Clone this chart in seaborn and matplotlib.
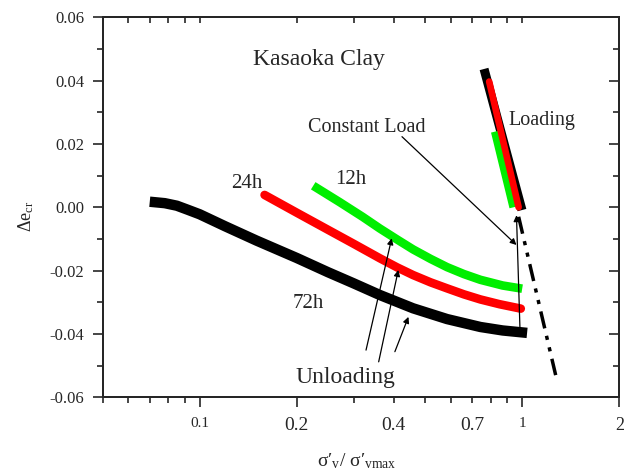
import numpy as np
import pandas as pd
import matplotlib
matplotlib.use("Agg")
import matplotlib.pyplot as plt
import seaborn as sns
from matplotlib.ticker import FixedLocator, NullFormatter, MultipleLocator, FixedFormatter

# ---------------- data ----------------
# unloading curves
x72 = [0.0727, 0.078, 0.085, 0.092, 0.1, 0.12, 0.15, 0.2, 0.25, 0.3, 0.362, 0.459, 0.585, 0.742, 0.87, 0.998]
y72 = [0.0016, 0.0013, 0.0005, -0.0008, -0.0022, -0.0060, -0.0105, -0.0160, -0.0205, -0.0240, -0.0277, -0.0319, -0.0353, -0.0378, -0.0389, -0.0395]
x24 = [0.159, 0.2, 0.25, 0.3, 0.362, 0.41, 0.459, 0.52, 0.585, 0.66, 0.742, 0.85, 0.99]
y24 = [0.0039, -0.0017, -0.0071, -0.0115, -0.0161, -0.0190, -0.0214, -0.0237, -0.0256, -0.0275, -0.0291, -0.0306, -0.0320]
x12 = [0.225, 0.272, 0.32, 0.362, 0.41, 0.459, 0.52, 0.585, 0.66, 0.742, 0.87, 1.0]
y12 = [0.0068, 0.0016, -0.0030, -0.0067, -0.0102, -0.0133, -0.0163, -0.0189, -0.0211, -0.0229, -0.0247, -0.0257]
# loading segments
x72_load = [0.768, 0.99]
y72_load = [0.0423, 0.0005]
x24_load = [0.79, 0.975]
y24_load = [0.0397, 0.0]
x12_load = [0.824, 0.94]
y12_load = [0.0239, 0.0]
# extrapolated loading line (dash-dot)
x_ext = [0.975, 1.27]
y_ext = [-0.003, -0.053]
# annotation arrows: (x_start, y_start, x_end, y_end)
arrow_const = (0.424, 0.0223, 0.96, -0.0119)
arrow_vert = (0.985, -0.0395, 0.96, -0.0025)
arrows_unload = [(0.328, -0.0451, 0.394, -0.0098),
                 (0.359, -0.0488, 0.413, -0.0198),
                 (0.403, -0.0456, 0.444, -0.0346)]
xtick_vals = [0.1, 0.2, 0.4, 0.7, 1, 2]
xtick_labels = ["0.1", "0.2", "0.4", "0.7", "1", "2"]
xtick_sizes = [11, 14, 14, 14, 11, 13]
ytick_vals = [-0.06, -0.04, -0.02, 0.00, 0.02, 0.04, 0.06]
ytick_labels = ["-0.06", "-0.04", "-0.02", "0.00", "0.02", "0.04", "0.06"]

# ---------------- style ----------------
sns.set_style("ticks")
plt.rcParams['font.family'] = ['Liberation Serif', 'DejaVu Serif']
plt.rcParams['mathtext.fontset'] = 'custom'
plt.rcParams['mathtext.rm'] = 'Liberation Serif'
plt.rcParams['mathtext.it'] = 'Liberation Serif:italic'
plt.rcParams['axes.linewidth'] = 1.3

fig = plt.figure(figsize=(6.32, 4.70), dpi=100)
ax = fig.add_axes([0.1622, 0.1547, 0.8177, 0.8085])

def seg(x, y, color, lw, cap='round', order=2, **kw):
    df = pd.DataFrame({"x": x, "y": y})
    sns.lineplot(data=df, x="x", y="y", ax=ax, color=color, linewidth=lw,
                 sort=False, estimator=None, solid_capstyle=cap,
                 solid_joinstyle='round', zorder=order, **kw)

seg(x72, y72, "black", 7.5, cap='projecting')
seg(x24, y24, "#ff0000", 6.2, cap='round')
seg(x12, y12, "#00ee00", 6.2, cap='butt')
seg(x72_load, y72_load, "black", 6.5, cap='projecting', order=3)
seg(x12_load, y12_load, "#00ee00", 6.0, cap='butt', order=3)
seg(x24_load, y24_load, "#ff0000", 4.8, cap='round', order=4)
df_ext = pd.DataFrame({"x": x_ext, "y": y_ext})
sns.lineplot(data=df_ext, x="x", y="y", ax=ax, color="black", linewidth=2.5,
             sort=False, estimator=None, zorder=3,
             linestyle=(0, (5, 2.2, 1.2, 2.2, 1.2, 2.2)))

ax.set_xscale("log")
ax.set_xlim(0.05, 2)
ax.set_ylim(-0.06, 0.06)

aprops = dict(arrowstyle='-|>', color='black', lw=0.9, mutation_scale=9, shrinkA=0, shrinkB=0)
for (x0, y0, x1, y1) in [arrow_const, arrow_vert] + arrows_unload:
    ax.annotate("", xy=(x1, y1), xytext=(x0, y0), arrowprops=aprops, zorder=5)

# texts
fig.text(318.5 / 632, 1 - 59 / 470, "Kasaoka Clay", fontsize=17, ha='center', va='center')
fig.text(367 / 632, 1 - 128 / 470, "Constant Load", fontsize=14.5, ha='center', va='center')
fig.text(542 / 632, 1 - 121 / 470, "Loading", fontsize=14.5, ha='center', va='center')
fig.text(351 / 632, 1 - 180 / 470, "12h", fontsize=15, ha='center', va='center')
fig.text(246.5 / 632, 1 - 183 / 470, "24h", fontsize=15, ha='center', va='center')
fig.text(308 / 632, 1 - 303 / 470, "72h", fontsize=15, ha='center', va='center')
fig.text(345 / 632, 1 - 377 / 470, "Unloading", fontsize=17, ha='center', va='center')

# axes labels
ax.set_xlabel("")
ax.set_ylabel("")
fig.text(357 / 632, 1 - 461 / 470, "σ′$_{\\mathrm{v}}$/ σ′$_{\\mathrm{vmax}}$", fontsize=14, ha='center', va='center')
fig.text(26 / 632, 1 - 216 / 470, "Δe$_{\\mathrm{cr}}$", fontsize=13, ha='center', va='center', rotation=90)

# ticks x
ax.xaxis.set_major_locator(FixedLocator(xtick_vals))
ax.xaxis.set_major_formatter(FixedFormatter(xtick_labels))
minors = [v * d for d in (0.01, 0.1, 1) for v in range(2, 10)]
ax.xaxis.set_minor_locator(FixedLocator(minors))
ax.xaxis.set_minor_formatter(NullFormatter())
ax.tick_params(axis='x', which='major', direction='out', length=7, width=1.2, pad=7, top=False)
ax.tick_params(axis='x', which='minor', direction='out', length=4.5, width=1.2, top=False)
for lbl, fs in zip(ax.get_xticklabels(), xtick_sizes):
    lbl.set_fontsize(fs)
for t, v in zip(ax.xaxis.get_major_ticks(), xtick_vals):
    if v in (0.4, 0.7):
        t.tick1line.set_markersize(4.5)

# ticks y
ax.yaxis.set_major_locator(FixedLocator(ytick_vals))
ax.yaxis.set_major_formatter(FixedFormatter(ytick_labels))
ax.yaxis.set_minor_locator(MultipleLocator(0.01))
ax.tick_params(axis='y', which='major', direction='out', length=7, width=1.2, pad=6, labelsize=12, right=False)
ax.tick_params(axis='y', which='minor', direction='out', length=4.5, width=1.2, right=False)

# mirrored inward ticks on top/right
axr = ax.twinx()
axr.set_ylim(ax.get_ylim())
axr.yaxis.set_major_locator(FixedLocator(ytick_vals))
axr.yaxis.set_minor_locator(MultipleLocator(0.01))
axr.tick_params(axis='y', which='major', direction='in', length=7, width=1.2, labelright=False)
axr.tick_params(axis='y', which='minor', direction='in', length=4.5, width=1.2, labelright=False)
axt = ax.twiny()
axt.set_xscale("log")
axt.set_xlim(ax.get_xlim())
axt.xaxis.set_major_locator(FixedLocator(xtick_vals))
axt.xaxis.set_minor_locator(FixedLocator(minors))
axt.tick_params(axis='x', which='both', direction='in', length=4.5, width=1.2, labeltop=False)
axt.xaxis.set_minor_formatter(NullFormatter())
for a in (axr, axt):
    a.set_ylabel("")
    a.set_xlabel("")
    for s in a.spines.values():
        s.set_linewidth(1.3)

fig.savefig("out.png", dpi=100)
